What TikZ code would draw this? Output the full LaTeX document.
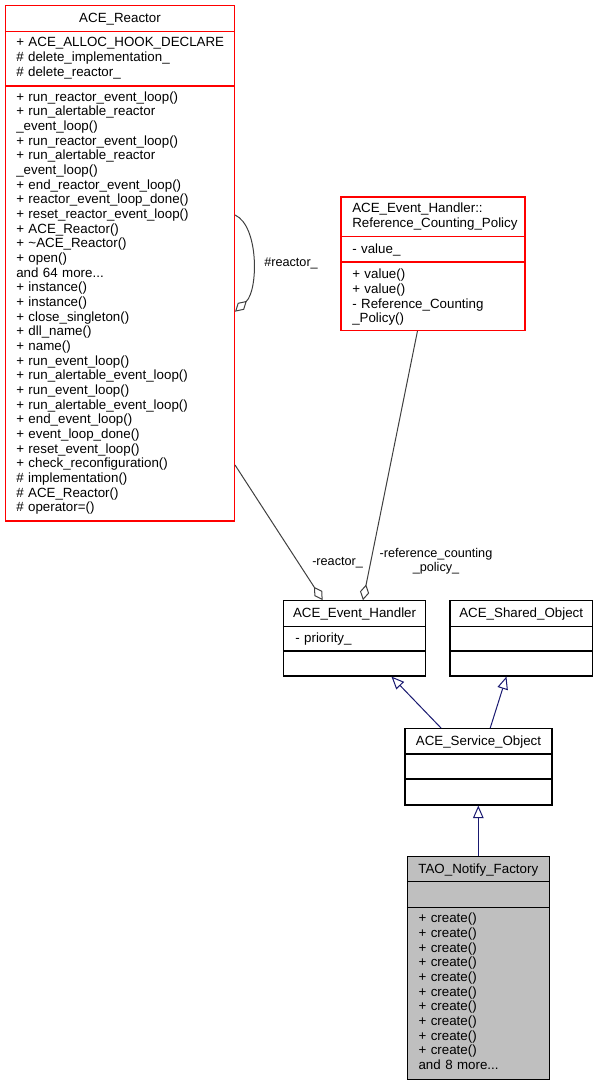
\documentclass[tikz,border=0pt]{standalone}
\usepackage{fontspec}
\setmainfont{Liberation Sans}
\usetikzlibrary{arrows.meta,fit,calc}
\definecolor{boxred}{HTML}{FF0000}
\definecolor{agggray}{HTML}{404040}
\definecolor{inhblue}{HTML}{191970}
\definecolor{rootfill}{HTML}{BFBFBF}
\newcommand\sepline[3]{\draw[#1] (#2.west |- 0,#3) -- (#2.east |- 0,#3);}
\begin{document}
\begin{tikzpicture}[x=0.75pt,y=-0.75pt,
  classbox/.style={inner sep=0pt, draw, line width=0.8pt},
  redbox/.style={draw=boxred},
  blackbox/.style={draw=black},
  title/.style={font=\fontsize{10}{11}\selectfont, inner sep=0pt, anchor=base},
  members/.style={font=\fontsize{10}{11}\selectfont, inner sep=0pt, anchor=base west, align=left, text width=#1},
  members/.default=170pt,
  elabel/.style={font=\fontsize{9.5}{10.6}\selectfont, inner sep=0pt, anchor=base west},
  agg/.style={draw=agggray, line width=0.75pt, -{Diamond[open,length=12pt,width=7pt]}},
  inh/.style={draw=inhblue, line width=0.75pt, -{Triangle[open,length=9.5pt,width=8pt]}}
]
\useasboundingbox (0,0) rectangle (597,1085);

% ---------- ACE_Reactor ----------
\node[fit={(5.5,5.5) (234.5,521)}, classbox, redbox] (reactor) {};
\sepline{boxred,line width=0.8pt}{reactor}{31.5}
\sepline{boxred,line width=0.8pt}{reactor}{86}
\node[title] (reactorT) at (120,22.3) {ACE\_Reactor};
\node[members] (reactorA) at (16,46.7) {+ ACE\_ALLOC\_HOOK\_DECLARE\\
\# delete\_implementation\_\\
\# delete\_reactor\_};
\node[members] (reactorM) at (16,101.3) {+ run\_reactor\_event\_loop()\\
+ run\_alertable\_reactor\\
\_event\_loop()\\
+ run\_reactor\_event\_loop()\\
+ run\_alertable\_reactor\\
\_event\_loop()\\
+ end\_reactor\_event\_loop()\\
+ reactor\_event\_loop\_done()\\
+ reset\_reactor\_event\_loop()\\
+ ACE\_Reactor()\\
+ \textasciitilde ACE\_Reactor()\\
+ open()\\
and 64 more...\\
+ instance()\\
+ instance()\\
+ close\_singleton()\\
+ dll\_name()\\
+ name()\\
+ run\_event\_loop()\\
+ run\_alertable\_event\_loop()\\
+ run\_event\_loop()\\
+ run\_alertable\_event\_loop()\\
+ end\_event\_loop()\\
+ event\_loop\_done()\\
+ reset\_event\_loop()\\
+ check\_reconfiguration()\\
\# implementation()\\
\# ACE\_Reactor()\\
\# operator=()};

% ---------- Reference_Counting_Policy ----------
\node[fit={(341,197) (525,330.5)}, classbox, redbox] (refpol) {};
\sepline{boxred,line width=0.8pt}{refpol}{236.5}
\sepline{boxred,line width=0.8pt}{refpol}{262}
\node[members] (refpolT) at (352,212.7) {ACE\_Event\_Handler::\\
Reference\_Counting\_Policy};
\node[members] (refpolA) at (352,253) {- value\_};
\node[members] (refpolM) at (352,278.8) {+ value()\\
+ value()\\
- Reference\_Counting\\
\_Policy()};

% ---------- ACE_Event_Handler ----------
\node[fit={(283.5,600.7) (425.7,676)}, classbox, blackbox] (handler) {};
\sepline{black,line width=0.8pt}{handler}{626.7}
\sepline{black,line width=0.8pt}{handler}{651}
\node[title] (handlerT) at (354.6,617.5) {ACE\_Event\_Handler};
\node[members=100pt] (handlerA) at (295,642) {- priority\_};

% ---------- ACE_Shared_Object ----------
\node[fit={(450,600.7) (592.3,676)}, classbox, blackbox] (shared) {};
\sepline{black,line width=0.8pt}{shared}{626.7}
\sepline{black,line width=0.8pt}{shared}{651}
\node[title] (sharedT) at (521.2,617.5) {ACE\_Shared\_Object};

% ---------- ACE_Service_Object ----------
\node[fit={(405,728.7) (552,805)}, classbox, blackbox] (service) {};
\sepline{black,line width=0.8pt}{service}{754}
\sepline{black,line width=0.8pt}{service}{779}
\node[title] (serviceT) at (478.5,745.5) {ACE\_Service\_Object};

% ---------- TAO_Notify_Factory ----------
\node[fit={(407.3,856.7) (549.3,1079.3)}, classbox, blackbox, fill=rootfill] (tao) {};
\sepline{black,line width=0.8pt}{tao}{881.7}
\sepline{black,line width=0.8pt}{tao}{907.3}
\node[title] (taoT) at (478.3,873.5) {TAO\_Notify\_Factory};
\node[members=100pt] (taoM) at (418.3,922.8) {+ create()\\
+ create()\\
+ create()\\
+ create()\\
+ create()\\
+ create()\\
+ create()\\
+ create()\\
+ create()\\
+ create()\\
and 8 more...};

% ---------- connectors ----------
\draw[agg] (reactor.east |- 0,215) .. controls (259,226) and (258.4,290.3) .. (reactor.east |- 0,311.7);
\node[elabel] (lblself) at (264,266.7) {\#reactor\_};

\draw[agg] (reactor.east |- 0,465) -- ($(handler.north west)+(39.7,0)$);
\node[elabel] (lblreactor) at (312,565) {-reactor\_};

\draw[agg] ($(refpol.south west)+(77,0)$) -- ($(handler.north west)+(80,0)$);
\node[font=\fontsize{9.5}{10.6}\selectfont, inner sep=0pt, anchor=base, align=center, text width=120pt] (lblref) at (436,557) {-reference\_counting\\
\_policy\_};

\draw[inh] ($(service.north west)+(36.7,0)$) -- ($(handler.south west)+(108.5,0)$);
\draw[inh] ($(service.north west)+(85.7,0)$) -- ($(shared.south west)+(57,0)$);
\draw[inh] (tao.north -| 478.3,0) -- (service.south -| 478.3,0);
\end{tikzpicture}
\end{document}
